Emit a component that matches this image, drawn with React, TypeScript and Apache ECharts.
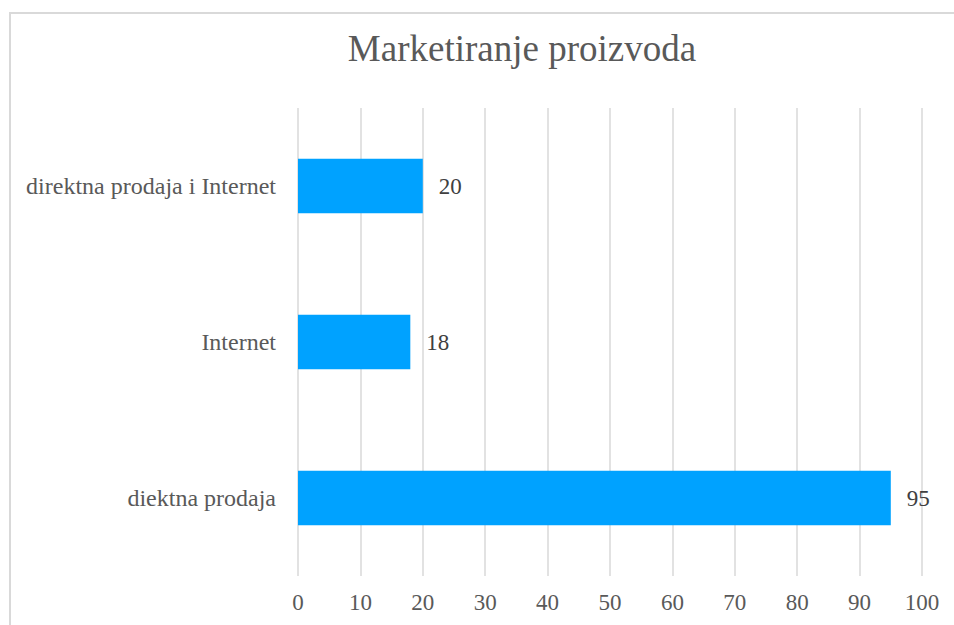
import React, { useEffect, useRef } from "react";
import * as echarts from "echarts";

const categories = ["diektna prodaja", "Internet", "direktna prodaja i Internet"];
const values = [95, 18, 20];
const titleText = "Marketiranje proizvoda";

export default function App() {
  const ref = useRef<HTMLDivElement>(null);
  useEffect(() => {
    if (!ref.current) return;
    const chart = echarts.init(ref.current, null, { renderer: "svg" });
    const font = "'Liberation Serif', 'Times New Roman', serif";
    chart.setOption({
      animation: false,
      backgroundColor: "#ffffff",
      title: {
        text: titleText,
        left: 517,
        textAlign: "center",
        top: 25,
        textStyle: { fontFamily: font, fontSize: 37, fontWeight: "normal", color: "#595959" },
      },
      graphic: [
        {
          type: "rect",
          shape: { x: 10, y: 13, width: 1000, height: 1000 },
          style: { fill: "none", stroke: "#d9d9d9", lineWidth: 2 },
          silent: true,
        },
      ],
      grid: { left: 298, right: 32, top: 108, bottom: 49 },
      xAxis: {
        type: "value",
        min: 0,
        max: 100,
        interval: 10,
        axisLine: { show: false },
        axisTick: { show: false },
        splitLine: { show: true, lineStyle: { color: "#d9d9d9", width: 1.5 } },
        axisLabel: { fontFamily: font, fontSize: 23, color: "#595959", margin: 15 },
      },
      yAxis: {
        type: "category",
        data: categories,
        axisLine: { show: false },
        axisTick: { show: false },
        axisLabel: { fontFamily: font, fontSize: 24, color: "#595959", margin: 22 },
      },
      series: [
        {
          type: "bar",
          data: values,
          barCategoryGap: "65%",
          itemStyle: { color: "#00a2ff" },
          label: {
            show: true,
            position: "right",
            distance: 16,
            fontFamily: font,
            fontSize: 23,
            color: "#404040",
          },
        },
      ],
    });
    return () => chart.dispose();
  }, []);
  return (
    <div
      ref={ref}
      style={{ position: "fixed", left: 0, top: 0, width: 954, height: 625 }}
    />
  );
}
